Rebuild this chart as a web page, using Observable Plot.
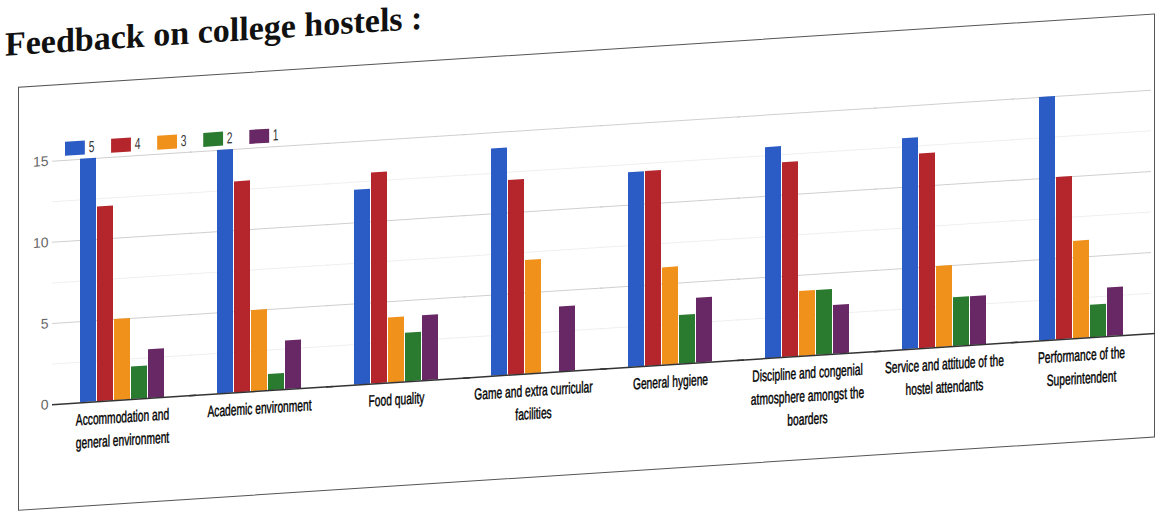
<!DOCTYPE html>
<html>
<head>
<meta charset="utf-8">
<script src="https://cdn.jsdelivr.net/npm/d3@7"></script>
<script src="https://cdn.jsdelivr.net/npm/@observablehq/plot@0.6"></script>
<style>
html, body { margin: 0; padding: 0; background: #fff; overflow: hidden; }
#page { position: absolute; left: 0; top: 0; width: 1158px; height: 513px; transform: skewY(-3.69deg); transform-origin: 0 0; }
#title { position: absolute; left: 5px; top: 28px; margin: 0; font: bold 34px/34px "Liberation Serif", "Times New Roman", serif; color: #111; white-space: nowrap; }
#frame { position: absolute; left: 18px; top: 88px; width: 1137px; height: 424px; border: 1.5px solid #555; box-sizing: border-box; }
#legend { position: absolute; left: 65px; top: 144px; transform: scaleX(0.64); transform-origin: 0 0; }
#legend .lg-swatches { min-height: 0 !important; margin: 0 !important; font-family: "Liberation Sans", Arial, sans-serif !important; font-size: 16px !important; color: #333; }
#legend .lg-swatch { margin-right: 26px !important; }
#legend .lg-swatch > svg { margin-right: 6px !important; }
#chart { position: absolute; left: 0; top: 150px; }
</style>
</head>
<body>
<div id="page">
  <div id="title">Feedback on college hostels :</div>
  <div id="frame"></div>
  <div id="chart"></div>
  <div id="legend"></div>
</div>
<script>
// Categories (x groups) and their wrapped tick labels
const categories = [
  "Accommodation and general environment",
  "Academic environment",
  "Food quality",
  "Game and extra curricular facilities",
  "General hygiene",
  "Discipline and congenial atmosphere amongst the boarders",
  "Service and attitude of the hostel attendants",
  "Performance of the Superintendent"
];
const tickLabels = [
  "Accommodation and\ngeneral environment",
  "Academic environment",
  "Food quality",
  "Game and extra curricular\nfacilities",
  "General hygiene",
  "Discipline and congenial\natmosphere amongst the\nboarders",
  "Service and attitude of the\nhostel attendants",
  "Performance of the\nSuperintendent"
];
// Rating series
const ratings = ["5", "4", "3", "2", "1"];
const colors = ["#2b5cc6", "#b5262c", "#f0911c", "#2a7b2f", "#672865"];
const s5 = [15, 15, 12, 14, 12, 13, 13, 15];
const s4 = [12, 13, 13, 12, 12, 12, 12, 10];
const s3 = [5, 5, 4, 7, 6, 4, 5, 6];
const s2 = [2, 1, 3, 0, 3, 4, 3, 2];
const s1 = [3, 3, 4, 4, 4, 3, 3, 3];
const yTicks = [0, 5, 10, 15];
const yMinor = [2.5, 7.5, 12.5];

const seriesByRating = {"5": s5, "4": s4, "3": s3, "2": s2, "1": s1};
const data = categories.flatMap((c, i) =>
  ratings.map(r => ({category: c, rating: r, value: seriesByRating[r][i]}))
);

// gridlines are drawn in each facet and stretched over the gaps between groups
const ext = -28;

const chart = Plot.plot({
  width: 1158,
  height: 360,
  marginTop: 14,
  marginBottom: 102.5,
  marginLeft: 52,
  marginRight: 8,
  style: {fontFamily: '"Liberation Sans", Arial, sans-serif', background: "transparent", overflow: "visible"},
  fx: {domain: categories, paddingInner: 0.387, paddingOuter: 0.2, label: null},
  x: {domain: ratings, paddingInner: 0.06, paddingOuter: 0, axis: null},
  y: {domain: [0, 15], axis: null},
  color: {domain: ratings, range: colors},
  marks: [
    Plot.ruleY(yMinor, {stroke: "#efefef", insetLeft: ext, insetRight: ext}),
    Plot.ruleY(yTicks.filter(d => d > 0), {stroke: "#cfcfcf", insetLeft: ext, insetRight: ext}),
    Plot.barY(data, {fx: "category", x: "rating", y: "value", fill: "rating"}),
    Plot.ruleY([0], {stroke: "#333", strokeWidth: 1.5, insetLeft: ext, insetRight: ext - 4}),
    Plot.text(yTicks, {fx: () => categories[0], y: d => d, text: d => String(d), frameAnchor: "left", textAnchor: "end", dx: ext - 4, fontSize: 14, fill: "#666", ariaLabel: "ylab"}),
    Plot.axisFx({anchor: "bottom", tickSize: 0, tickPadding: 6, fontSize: 16, lineHeight: 1.44,
      tickFormat: d => tickLabels[categories.indexOf(d)], label: null, fill: "#000"})
  ]
});
document.getElementById("chart").appendChild(chart);

// horizontally condense the label text (the reference uses a very narrow face)
function condense(sel, k, heavy) {
  chart.querySelectorAll(sel).forEach(t => {
    let tr = t.getAttribute("transform");
    if (!tr) {
      const x = t.getAttribute("x") || 0, y = t.getAttribute("y") || 0;
      t.removeAttribute("x"); t.removeAttribute("y");
      tr = `translate(${x},${y})`;
    }
    t.setAttribute("transform", tr + ` scale(${k},1)`);
    if (heavy) { t.setAttribute("stroke", "#000"); t.setAttribute("stroke-width", "0.4"); }
  });
}
let fxSel = '[aria-label="fx-axis tick label"] text';
if (!chart.querySelector(fxSel)) fxSel = '[aria-label^="fx-axis"] text';
condense(fxSel, 0.64, true);
condense('[aria-label="ylab"] text', 0.64, false);

const legend = Plot.legend({
  color: {type: "categorical", domain: ratings, range: colors},
  swatchWidth: 31, swatchHeight: 14, className: "lg"
});
document.getElementById("legend").appendChild(legend);
</script>
</body>
</html>
